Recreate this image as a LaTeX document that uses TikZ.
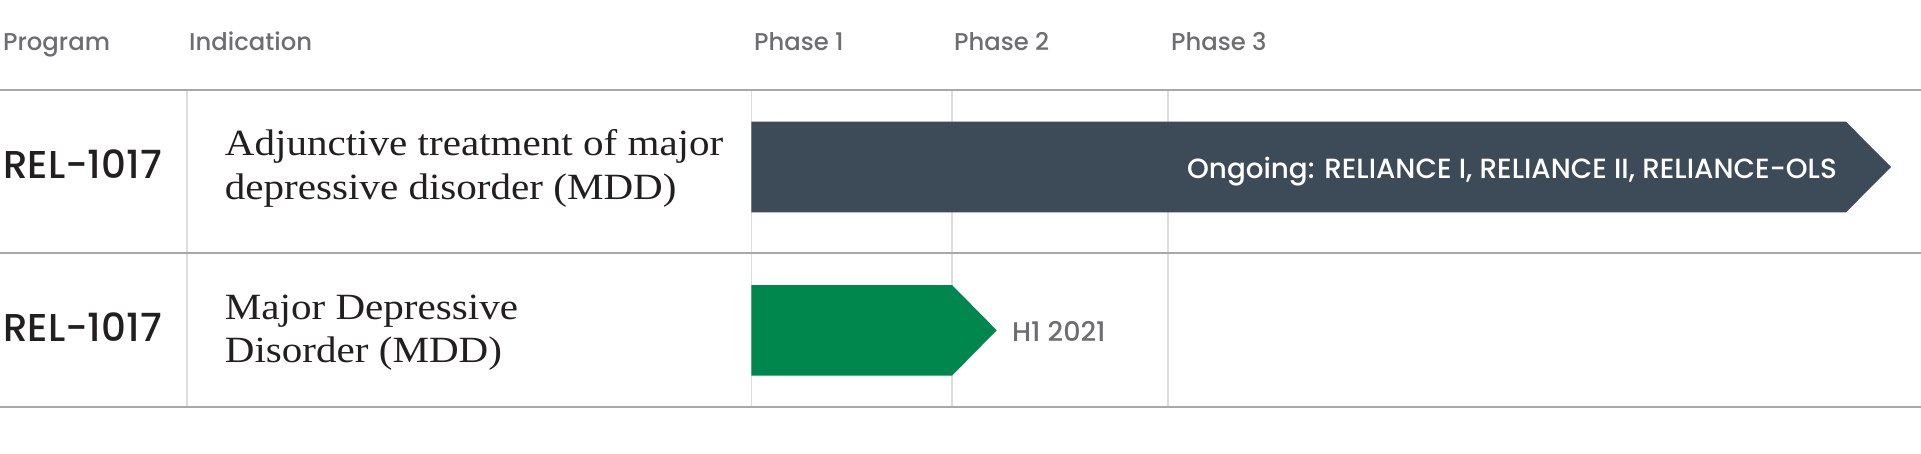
\documentclass[tikz,border=0pt]{standalone}
\usepackage{fontspec}
\setmainfont[FakeStretch=1.11]{Liberation Serif}
\newfontfamily\gsans{Poppins Medium}
\newfontfamily\gsansmed{Poppins Medium}
\definecolor{hdrgray}{HTML}{6D6E71}
\definecolor{linegray}{HTML}{A8A8A8}
\definecolor{vlinegray}{HTML}{DDDDDD}
\definecolor{darkbar}{HTML}{3D4A57}
\definecolor{greenbar}{HTML}{00874D}
\definecolor{txtdark}{HTML}{231F20}
\begin{document}
\begin{tikzpicture}[x=1pt,y=-1pt,
  hdr/.style={anchor=base west,inner sep=0pt,text=hdrgray,font=\gsans\fontsize{24.3}{28}\selectfont},
  prog/.style={anchor=base west,inner sep=0pt,text=txtdark,font=\gsansmed\fontsize{38.8}{44}\selectfont},
  indic/.style={anchor=base west,inner sep=0pt,text=txtdark,font=\fontsize{37}{43}\selectfont},
  bartext/.style={anchor=base east,inner sep=0pt,text=white,font=\gsansmed\fontsize{27.8}{32}\selectfont},
  notetext/.style={anchor=base west,inner sep=0pt,text=hdrgray,font=\gsansmed\fontsize{27}{32}\selectfont},
  hline/.style={draw=linegray,line width=2pt},
  vline/.style={draw=vlinegray,line width=1.5pt}]
\useasboundingbox (0,0) rectangle (1921,453);
% vertical grid lines
\draw[vline] (186.8,90) -- (186.8,406.7);
\draw[vline] (751.4,90) -- (751.4,406.7);
\draw[vline] (952,90) -- (952,406.7);
\draw[vline] (1168,90) -- (1168,406.7);
% horizontal lines
\draw[hline] (0,90) -- (1921,90);
\draw[hline] (0,253.3) -- (1921,253.3);
\draw[hline] (0,406.7) -- (1921,406.7);
% bars
\fill[darkbar] (751.4,121.7) -- (1846,121.7) -- (1891,167) -- (1846,212.3) -- (751.4,212.3) -- cycle;
\fill[greenbar] (751.4,285) -- (952,285) -- (996.7,330.3) -- (952,375.7) -- (751.4,375.7) -- cycle;
% headers
\node[hdr] (hprog) at (3,50) {Program};
\node[hdr] (hind) at (189,50) {Indication};
\node[hdr] (hp1) at (754,50) {Phase 1};
\node[hdr] (hp2) at (954,50) {Phase 2};
\node[hdr] (hp3) at (1171,50) {Phase 3};
% programs
\node[prog] (prog1) at (3,178.3) {REL-1017};
\node[prog] (prog2) at (3,341.7) {REL-1017};
% indications
\node[indic] (ind1a) at (224.7,155.7) {Adjunctive treatment of major};
\node[indic] (ind1b) at (224.7,199) {depressive disorder (MDD)};
\node[indic] (ind2a) at (224.7,319) {Major Depressive};
\node[indic] (ind2b) at (224.7,362.3) {Disorder (MDD)};
% bar labels
\node[bartext] (bar1txt) at (1837,178) {Ongoing: RELIANCE I, RELIANCE II, RELIANCE-OLS};
\node[notetext] (bar2txt) at (1012,341.7) {H1 2021};
\end{tikzpicture}
\end{document}
